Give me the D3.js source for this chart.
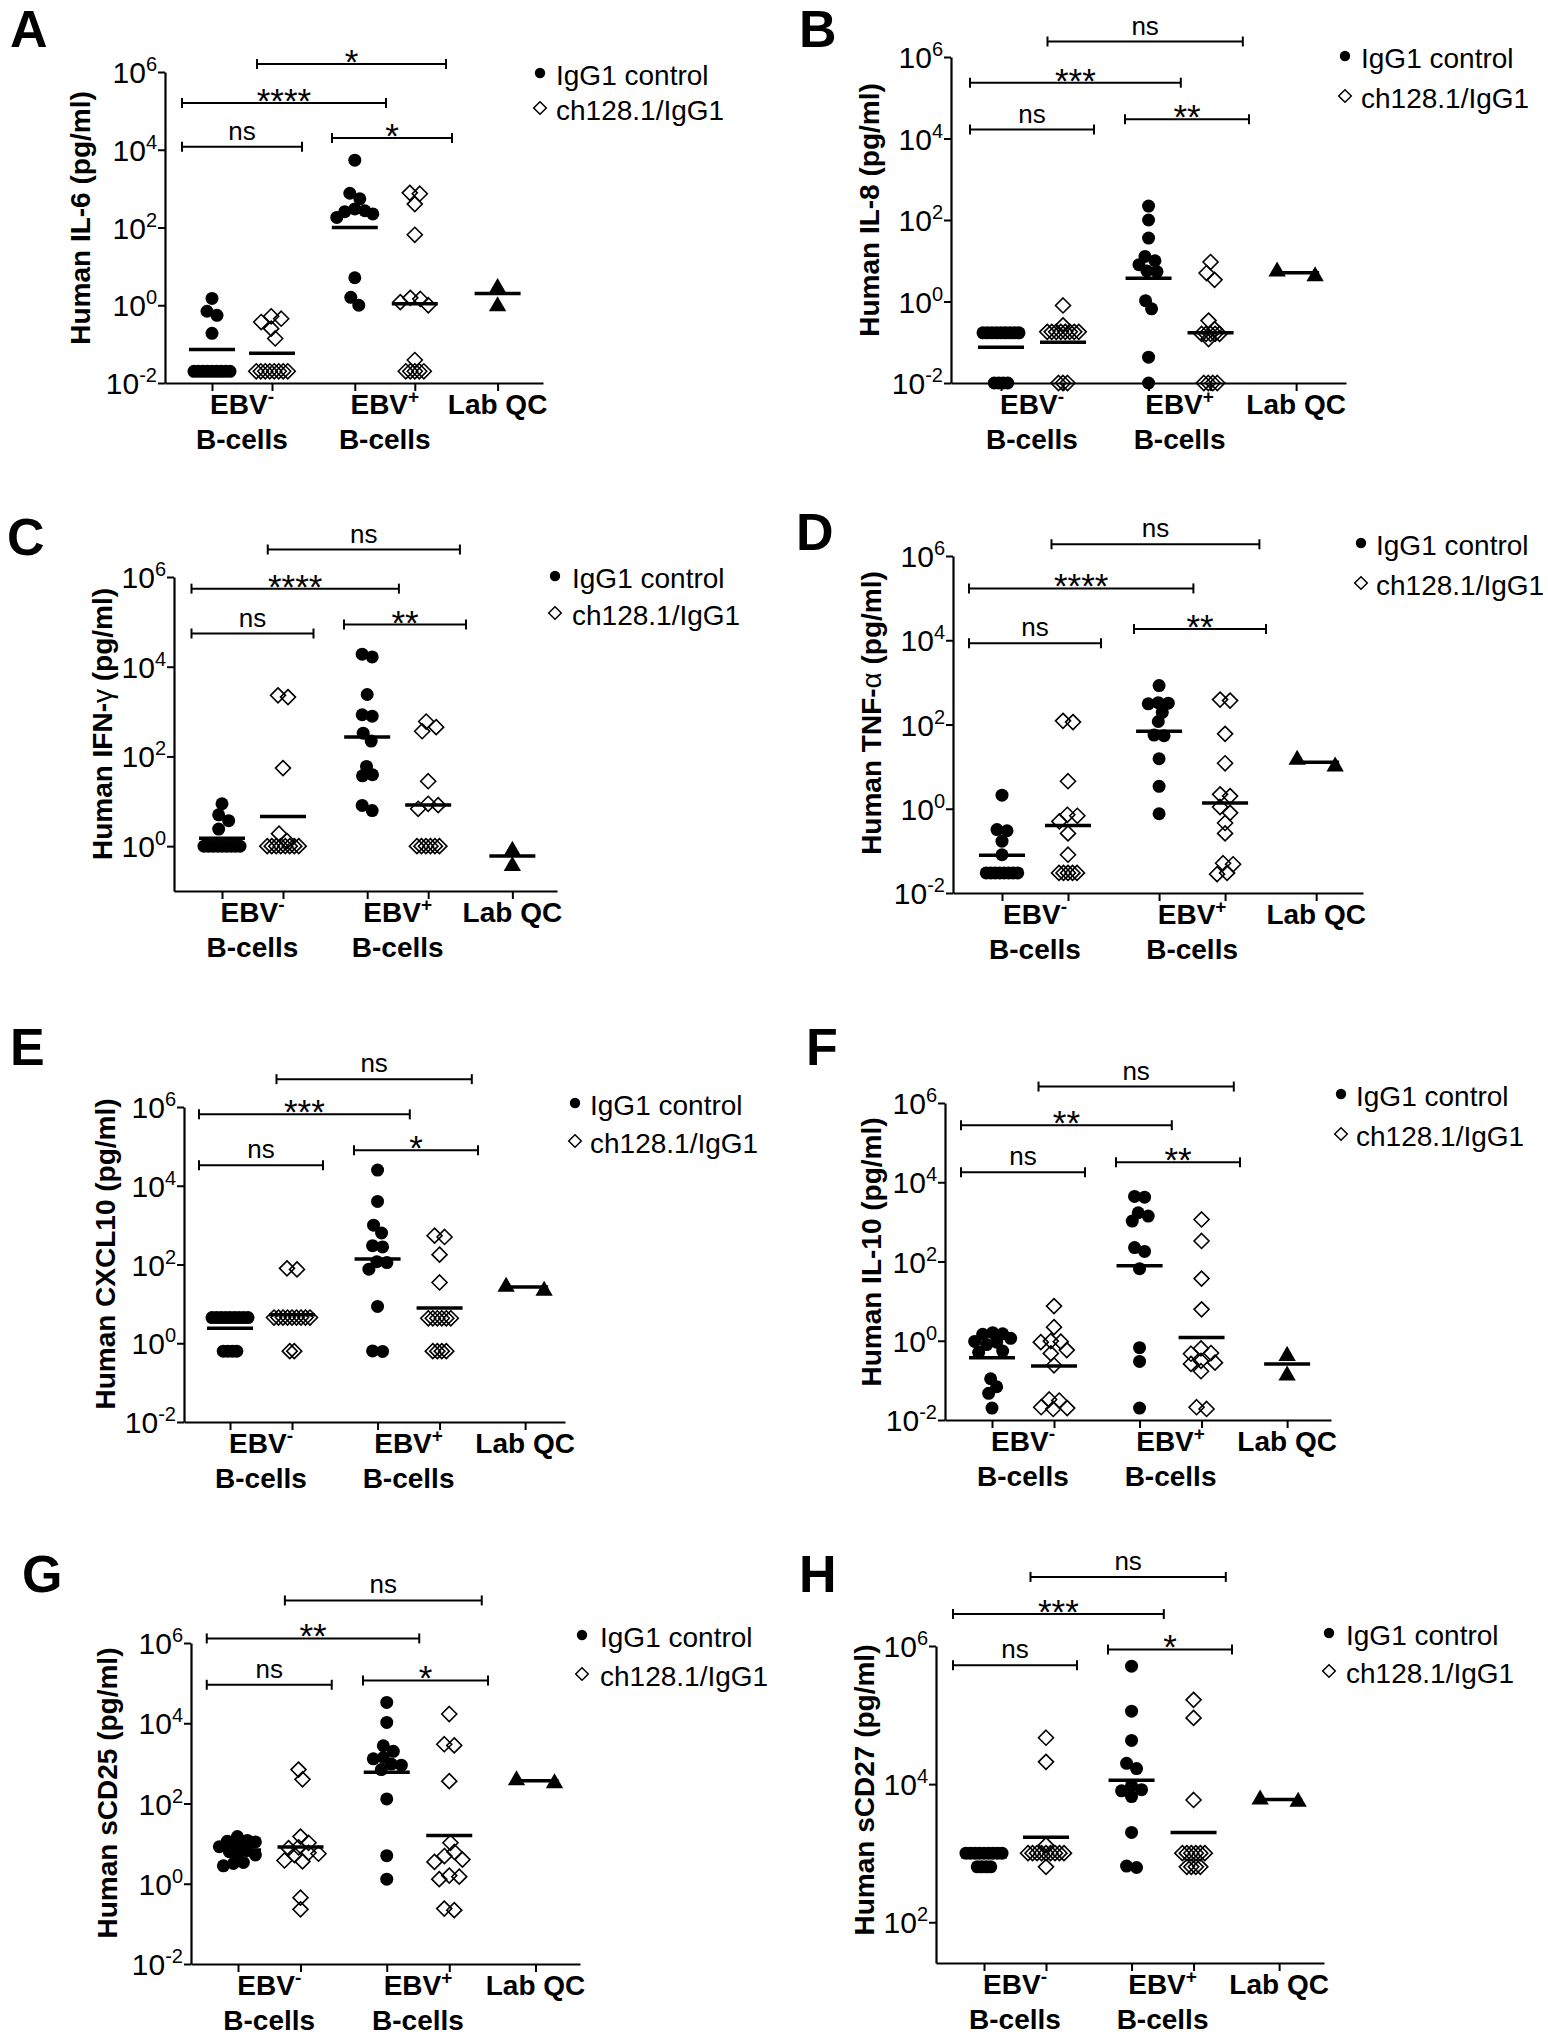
<!DOCTYPE html>
<html>
<head>
<meta charset="utf-8">
<script src="https://cdn.jsdelivr.net/npm/d3@7"></script>
<style>
body { margin: 0; background: #fff; }
svg { display: block; font-family: "Liberation Sans", Arial, Helvetica, sans-serif; }
</style>
</head>
<body>
<script>
// ---------- data (pg/ml) ----------
const groupNames = ["EBV", "EBV", "Lab QC"];
const groupSups = ["-", "+", ""];
const groupSecond = ["B-cells", "B-cells", ""];
const seriesNames = ["IgG1 control", "ch128.1/IgG1"];

// columns: EBV- IgG1, EBV- ch128.1, EBV+ IgG1, EBV+ ch128.1, Lab QC
const il6Points = [
  [1.5, 0.7, 0.55, 0.19, 0.02, 0.02, 0.02, 0.02, 0.02, 0.02, 0.02, 0.02, 0.02],
  [0.52, 0.45, 0.37, 0.25, 0.14, 0.02, 0.02, 0.02, 0.02, 0.02, 0.02, 0.02, 0.02],
  [5400, 760, 545, 300, 270, 255, 224, 182, 5.1, 1.6, 1.0],
  [780, 740, 400, 65, 1.55, 1.45, 1.2, 1.0, 0.039, 0.02, 0.02, 0.02, 0.02, 0.02],
  [2.95, 1.0]
];
const il6Means = [0.073, 0.058, 100, 1.1, 2.0];
const il6Sig = [12000, 160000, 20000, 1.6e6];
const il6SigLabels = ["ns", "****", "*", "*"];

const il8Points = [
  [0.17, 0.17, 0.17, 0.17, 0.17, 0.17, 0.17, 0.17, 0.17, 0.01, 0.01, 0.01, 0.01],
  [0.8, 0.26, 0.18, 0.18, 0.18, 0.18, 0.18, 0.18, 0.18, 0.18, 0.01, 0.01, 0.01],
  [220, 100, 36, 12.8, 10, 8, 5.6, 5.4, 1.05, 0.66, 0.043, 0.01],
  [9.3, 5, 3.4, 0.34, 0.21, 0.16, 0.16, 0.16, 0.16, 0.16, 0.12, 0.01, 0.01, 0.01, 0.01],
  [4.4, 5.8]
];
const il8Means = [0.075, 0.1, 3.7, 0.17, 5.1];
const il8Sig = [16600, 234000, 29500, 2.4e6];
const il8SigLabels = ["ns", "***", "**", "ns"];

const ifngPoints = [
  [8.8, 5, 3.7, 2.4, 1, 1, 1, 1, 1, 1, 1, 1, 1],
  [2300, 2100, 55, 1.9, 1.3, 1, 1, 1, 1, 1, 1, 1, 1],
  [19000, 16500, 2400, 850, 790, 330, 220, 60, 39, 37, 8.1, 6.2],
  [600, 450, 365, 28, 8.8, 8.2, 6.8, 1, 1, 1, 1, 1, 1],
  [0.83, 0.38]
];
const ifngMeans = [1.5, 4.6, 270, 8.3, 0.6];
const ifngSig = [55000, 550000, 87000, 4.1e6];
const ifngSigLabels = ["ns", "****", "**", "ns"];

const tnfPoints = [
  [2.1, 0.32, 0.3, 0.17, 0.081, 0.03, 0.03, 0.03, 0.03, 0.03, 0.03, 0.03, 0.03],
  [122, 114, 4.5, 0.72, 0.68, 0.5, 0.26, 0.081, 0.03, 0.03, 0.03, 0.03, 0.03],
  [840, 330, 320, 310, 195, 118, 56, 54, 15.4, 3.4, 0.76],
  [390, 370, 60, 12, 2.2, 2.0, 1.1, 0.8, 0.46, 0.26, 0.051, 0.048, 0.03, 0.028],
  [10.7, 15.4]
];
const tnfMeans = [0.079, 0.4, 69, 1.36, 12.7];
const tnfSig = [8500, 170000, 18600, 1.9e6];
const tnfSigLabels = ["ns", "****", "**", "ns"];

const cxcl10Points = [
  [4.5, 4.5, 4.5, 4.5, 4.5, 4.5, 4.5, 4.5, 4.5, 0.63, 0.63, 0.63, 0.63],
  [80, 75, 4.5, 4.5, 4.5, 4.5, 4.5, 4.5, 4.5, 4.5, 4.5, 0.63, 0.63],
  [25000, 4000, 1000, 630, 300, 280, 118, 112, 76, 8.6, 0.64, 0.62],
  [540, 500, 178, 35, 4.3, 4.3, 4.3, 4.3, 4.3, 4.3, 0.63, 0.63, 0.63, 0.63],
  [23, 29]
];
const cxcl10Means = [2.4, 5.3, 138, 7.8, 27];
const cxcl10Sig = [33000, 650000, 80000, 5.1e6];
const cxcl10SigLabels = ["ns", "***", "*", "ns"];

const il10Points = [
  [1.6, 1.5, 1.45, 1.15, 0.96, 0.92, 0.8, 0.55, 0.51, 0.11, 0.069, 0.047, 0.02],
  [7.5, 2.2, 0.98, 0.95, 0.92, 0.58, 0.48, 0.24, 0.033, 0.031, 0.021, 0.02, 0.019],
  [4400, 4200, 1700, 1400, 1050, 225, 180, 66, 0.67, 0.3, 0.02],
  [1150, 330, 37, 6.2, 0.64, 0.49, 0.47, 0.31, 0.28, 0.26, 0.17, 0.021, 0.019],
  [0.44, 0.14]
];
const il10Means = [0.37, 0.23, 78, 1.2, 0.26];
const il10Sig = [18000, 275000, 32000, 2.6e6];
const il10SigLabels = ["ns", "**", "**", "ns"];

const scd25Points = [
  [15, 12, 11.5, 11, 9, 8.4, 6.7, 6.3, 5.6, 5.2, 3.4, 3.2, 2.8],
  [700, 400, 15, 10.5, 8.1, 7.7, 5.9, 5.6, 5.2, 3.8, 3.6, 0.45, 0.23],
  [33000, 10500, 2750, 2000, 1400, 1300, 960, 900, 700, 130, 5, 1.3],
  [17000, 3000, 2800, 360, 10.5, 6.2, 4.9, 4, 3.5, 1.6, 1.5, 1.3, 0.24, 0.22],
  [340, 400]
];
const scd25Means = [6.9, 8.2, 600, 16, 370];
const scd25Sig = [91000, 1.3e6, 117000, 1.15e7];
const scd25SigLabels = ["ns", "**", "*", "ns"];

const scd27Points = [
  [1000, 1000, 1000, 1000, 1000, 1000, 1000, 1000, 1000, 635, 635, 635, 635],
  [47000, 21000, 1310, 1000, 1000, 1000, 1000, 1000, 1000, 1000, 1000, 1000, 635],
  [510000, 114000, 43000, 20000, 16800, 9500, 8300, 8000, 6600, 2000, 650, 620],
  [166000, 91000, 5900, 1000, 1000, 1000, 1000, 1000, 1000, 635, 635, 635, 635],
  [5750, 6200]
];
const scd27Means = [890, 1700, 11400, 2000, 6000];
const scd27Sig = [525000, 2.9e6, 890000, 1e7];
const scd27SigLabels = ["ns", "***", "*", "ns"];

const ticksFull = [1e-2, 1, 1e2, 1e4, 1e6];
const ticksC = [1, 1e2, 1e4, 1e6];
const ticksH = [1e2, 1e4, 1e6];

// ---------- layout ----------
const colUnits = [0, 1, 2.38, 3.38, 4.76];
const colKinds = ["dot", "diamond", "dot", "diamond", "tri"];
const groupUnits = [0.5, 2.88, 4.76];
const bracketSpans = [[-0.5, 1.5], [-0.5, 2.9], [2.0, 4.0], [0.75, 3.9]];

const panels = [
  {letter: "A", title: ["Human IL-6 (pg/ml)"], pts: il6Points, means: il6Means, sig: il6Sig, sigL: il6SigLabels, ticks: ticksFull, lo: 1e-2,
   x0: 165, xEnd: 543, yTop: 72, yBot: 383, col0: 212, unit: 60, lp: [10, 47], leg: [540, 556, 75, 110], yl: [80, 218]},
  {letter: "B", title: ["Human IL-8 (pg/ml)"], pts: il8Points, means: il8Means, sig: il8Sig, sigL: il8SigLabels, ticks: ticksFull, lo: 1e-2,
   x0: 951, xEnd: 1346, yTop: 57, yBot: 383, col0: 1001, unit: 62, lp: [799, 47], leg: [1345, 1361, 58, 98], yl: [869, 210]},
  {letter: "C", title: ["Human IFN-", "γ", " (pg/ml)"], pts: ifngPoints, means: ifngMeans, sig: ifngSig, sigL: ifngSigLabels, ticks: ticksC, lo: 0.1,
   x0: 174, xEnd: 557, yTop: 577, yBot: 891, col0: 222, unit: 61, lp: [7, 555], leg: [555, 572, 578, 615], yl: [102, 724]},
  {letter: "D", title: ["Human TNF-", "α", " (pg/ml)"], pts: tnfPoints, means: tnfMeans, sig: tnfSig, sigL: tnfSigLabels, ticks: ticksFull, lo: 1e-2,
   x0: 953, xEnd: 1363, yTop: 556, yBot: 893, col0: 1002, unit: 66, lp: [796, 550], leg: [1361, 1376, 545, 585], yl: [871, 713]},
  {letter: "E", title: ["Human CXCL10 (pg/ml)"], pts: cxcl10Points, means: cxcl10Means, sig: cxcl10Sig, sigL: cxcl10SigLabels, ticks: ticksFull, lo: 1e-2,
   x0: 184, xEnd: 565, yTop: 1107, yBot: 1422, col0: 230, unit: 62, lp: [10, 1065], leg: [575, 590, 1105, 1143], yl: [105, 1254]},
  {letter: "F", title: ["Human IL-10 (pg/ml)"], pts: il10Points, means: il10Means, sig: il10Sig, sigL: il10SigLabels, ticks: ticksFull, lo: 1e-2,
   x0: 945, xEnd: 1331, yTop: 1103, yBot: 1420, col0: 992, unit: 62, lp: [806, 1065], leg: [1341, 1356, 1096, 1136], yl: [871, 1252]},
  {letter: "G", title: ["Human sCD25 (pg/ml)"], pts: scd25Points, means: scd25Means, sig: scd25Sig, sigL: scd25SigLabels, ticks: ticksFull, lo: 1e-2,
   x0: 191, xEnd: 580, yTop: 1643, yBot: 1964, col0: 238, unit: 62.5, lp: [22, 1592], leg: [582, 600, 1637, 1676], yl: [107, 1793]},
  {letter: "H", title: ["Human sCD27 (pg/ml)"], pts: scd27Points, means: scd27Means, sig: scd27Sig, sigL: scd27SigLabels, ticks: ticksH, lo: Math.pow(10, 1.41),
   x0: 936, xEnd: 1324, yTop: 1646, yBot: 1963, col0: 984, unit: 62, lp: [799, 1592], leg: [1329, 1346, 1635, 1673], yl: [864, 1790]}
];

const svg = d3.select("body").append("svg")
  .attr("width", 1548)
  .attr("height", 2041);

svg.append("rect").attr("width", 1548).attr("height", 2041).attr("fill", "#fff");

const diamond = (r) => `M0,${-r}L${r},0L0,${r}L${-r},0Z`;
const tri = d3.symbol().type(d3.symbolTriangle).size(130);

// column scatter: identical values form a tight row, the rest dodge each other
function swarm(ys, o) {
  const order = d3.range(ys.length).sort((a, b) => ys[a] - ys[b]);
  const rows = [];
  order.forEach(i => {
    const last = rows[rows.length - 1];
    if (last && Math.abs(ys[i] - ys[last[0]]) <= o.rowTol) last.push(i);
    else rows.push([i]);
  });
  const xs = new Array(ys.length);
  rows.filter(r => r.length > 1).forEach(r => {
    r.forEach((i, k) => { xs[i] = (k - (r.length - 1) / 2) * o.rowGap; });
  });
  const singles = rows.filter(r => r.length === 1).map(r => r[0]);
  const cands = [0];
  for (let s = o.step; s <= o.half + 1e-6; s += o.step) cands.push(s, -s);
  const placed = [];
  singles.forEach(i => {
    let best = 0, bestD = -1;
    for (const c of cands) {
      let m = Infinity;
      placed.forEach(q => { m = Math.min(m, Math.hypot(q.x - c, q.y - ys[i])); });
      if (m >= o.D) { best = c; break; }
      if (m > bestD + 0.5) { bestD = m; best = c; }
    }
    xs[i] = best;
    placed.push({x: best, y: ys[i]});
  });
  // centre each run of touching single points
  const parent = new Map(singles.map(i => [i, i]));
  const find = i => parent.get(i) === i ? i : find(parent.get(i));
  singles.forEach(a => singles.forEach(b => {
    if (a < b && Math.abs(ys[a] - ys[b]) < o.D) parent.set(find(a), find(b));
  }));
  d3.group(singles, find).forEach(mem => {
    const m = d3.mean(mem, i => xs[i]);
    mem.forEach(i => { xs[i] -= m; });
  });
  return xs;
}

const dataSwarm = {rowTol: 0.3, rowGap: 4.5, D: 10, step: 2, half: 18};
const qcSwarm = {rowTol: -1, rowGap: 0, D: 14, step: 38, half: 38};

panels.forEach(p => {
  const g = svg.append("g");
  const y = d3.scaleLog().domain([p.lo, 1e6]).range([p.yBot, p.yTop]);
  const x = d3.scaleLinear().domain([0, 1]).range([p.col0, p.col0 + p.unit]);
  const xa = x.copy().domain([x.invert(p.x0), x.invert(p.xEnd)]).range([p.x0, p.xEnd]);

  // axes
  const yAxis = g.append("g")
    .attr("transform", `translate(${p.x0},0)`)
    .call(d3.axisLeft(y).tickValues(p.ticks).tickSize(7).tickSizeOuter(0).tickFormat(""));
  const xAxis = g.append("g")
    .attr("transform", `translate(0,${p.yBot})`)
    .call(d3.axisBottom(xa).tickValues(colUnits).tickSize(8).tickSizeOuter(0).tickFormat(""));
  [yAxis, xAxis].forEach(a => {
    a.select(".domain").attr("stroke", "#000").attr("stroke-width", 2.2);
    a.selectAll(".tick line").attr("stroke", "#000").attr("stroke-width", 2);
  });

  // y tick labels 10^n
  p.ticks.forEach(t => {
    const tx = g.append("text")
      .attr("x", p.x0 - 8)
      .attr("y", y(t) + 11)
      .attr("text-anchor", "end")
      .attr("font-size", 30);
    tx.append("tspan").text("10");
    tx.append("tspan").attr("dy", -12).attr("font-size", 20).text(Math.round(Math.log10(t)));
  });

  // group labels
  groupNames.forEach((nm, i) => {
    const t = g.append("text")
      .attr("x", x(groupUnits[i]))
      .attr("y", p.yBot + 31)
      .attr("text-anchor", "middle")
      .attr("font-weight", "bold")
      .attr("font-size", 28);
    t.append("tspan").text(nm);
    if (groupSups[i]) t.append("tspan").attr("dy", -11).attr("font-size", 19).text(groupSups[i]);
    if (groupSecond[i]) {
      g.append("text")
        .attr("x", x(groupUnits[i]))
        .attr("y", p.yBot + 66)
        .attr("text-anchor", "middle")
        .attr("font-weight", "bold")
        .attr("font-size", 28)
        .text(groupSecond[i]);
    }
  });

  // y title
  const yt = g.append("text")
    .attr("transform", `translate(${p.yl[0]},${p.yl[1]}) rotate(-90)`)
    .attr("text-anchor", "middle")
    .attr("dominant-baseline", "central")
    .attr("font-weight", "bold")
    .attr("font-size", 28);
  p.title.forEach((s, i) => {
    yt.append("tspan").attr("font-weight", i === 1 ? "normal" : "bold").text(s);
  });

  // panel letter
  g.append("text")
    .attr("x", p.lp[0])
    .attr("y", p.lp[1])
    .attr("font-weight", "bold")
    .attr("font-size", 52)
    .text(p.letter);

  // points
  p.pts.forEach((vals, c) => {
    const ys = vals.map(v => y(v));
    const xs = swarm(ys, c === 4 ? qcSwarm : dataSwarm);
    const cx = x(colUnits[c]);
    vals.forEach((v, i) => {
      const px = cx + xs[i], py = ys[i];
      if (colKinds[c] === "dot") {
        g.append("circle").attr("cx", px).attr("cy", py).attr("r", 6.5).attr("fill", "#000");
      } else if (colKinds[c] === "diamond") {
        g.append("path").attr("d", diamond(7.5)).attr("transform", `translate(${px},${py})`)
          .attr("fill", "none").attr("stroke", "#000").attr("stroke-width", 1.6);
      } else {
        g.append("path").attr("d", tri()).attr("transform", `translate(${px},${py + 1})`).attr("fill", "#000");
      }
    });
  });

  // mean bars
  g.selectAll("line.mean")
    .data(p.means)
    .enter()
    .append("line")
    .attr("class", "mean")
    .attr("x1", (d, i) => x(colUnits[i]) - 23)
    .attr("x2", (d, i) => x(colUnits[i]) + 23)
    .attr("y1", d => y(d))
    .attr("y2", d => y(d))
    .attr("stroke", "#000")
    .attr("stroke-width", 3.5);

  // significance brackets
  p.sig.forEach((lv, i) => {
    const yy = y(lv);
    const x1 = x(bracketSpans[i][0]), x2 = x(bracketSpans[i][1]);
    g.append("line").attr("x1", x1).attr("x2", x2).attr("y1", yy).attr("y2", yy)
      .attr("stroke", "#000").attr("stroke-width", 2);
    [x1, x2].forEach(xx => {
      g.append("line").attr("x1", xx).attr("x2", xx).attr("y1", yy - 5).attr("y2", yy + 5)
        .attr("stroke", "#000").attr("stroke-width", 2);
    });
    const lab = p.sigL[i];
    g.append("text")
      .attr("x", (x1 + x2) / 2)
      .attr("y", lab === "ns" ? yy - 7 : yy + 10)
      .attr("text-anchor", "middle")
      .attr("font-size", lab === "ns" ? 26 : 35)
      .text(lab);
  });

  // legend
  g.append("circle").attr("cx", p.leg[0]).attr("cy", p.leg[2] - 2).attr("r", 5.2).attr("fill", "#000");
  g.append("path").attr("d", diamond(6.3)).attr("transform", `translate(${p.leg[0]},${p.leg[3] - 2})`)
    .attr("fill", "none").attr("stroke", "#000").attr("stroke-width", 1.5);
  seriesNames.forEach((s, i) => {
    g.append("text")
      .attr("x", p.leg[1])
      .attr("y", (i === 0 ? p.leg[2] : p.leg[3]) + 10)
      .attr("font-size", 28)
      .text(s);
  });
});
</script>
</body>
</html>
